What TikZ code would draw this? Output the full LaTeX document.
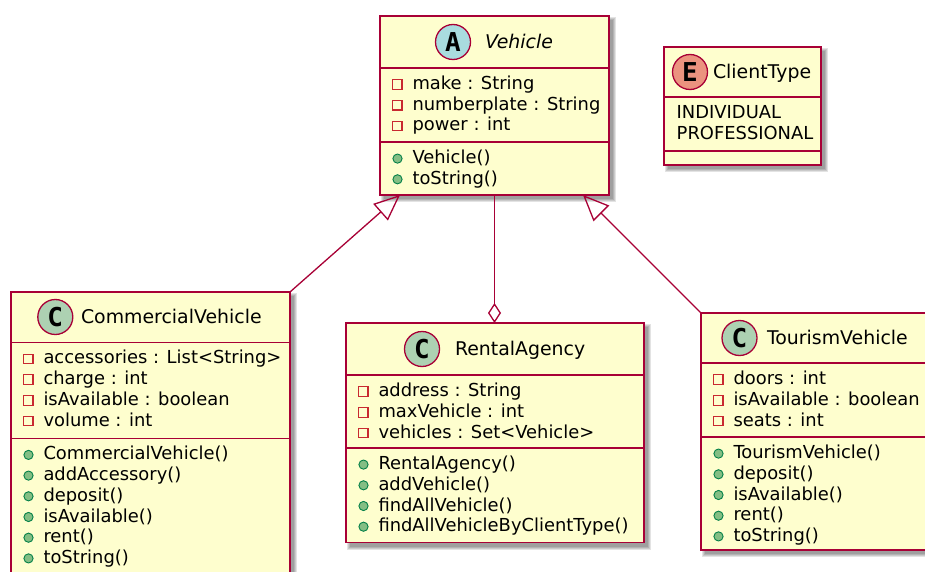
\documentclass[tikz,border=0pt]{standalone}
\usepackage{fontspec}
\setmainfont{DejaVu Sans}
\newfontfamily\circfont{DejaVu Sans Mono}
\usetikzlibrary{arrows.meta,backgrounds}
\definecolor{umlfill}{HTML}{FEFECE}
\definecolor{umlborder}{HTML}{A80036}
\definecolor{cgreen}{HTML}{ADD1B2}
\definecolor{cblue}{HTML}{A9DCDF}
\definecolor{cred}{HTML}{EB937F}
\definecolor{privred}{HTML}{C82930}
\definecolor{pubfill}{HTML}{84BE84}
\definecolor{pubdraw}{HTML}{038048}
\tikzset{
  cls/.style={draw=umlborder, fill=umlfill, line width=1.5pt, rectangle, inner sep=0pt, outer sep=0pt, anchor=north west},
  sepline/.style={draw=umlborder, line width=1.5pt},
  member/.style={anchor=base west, inner sep=0pt, outer sep=0pt, font=\fontsize{17.9}{20.7}\selectfont},
  clsname/.style={anchor=base west, inner sep=0pt, outer sep=0pt, font=\fontsize{18.9}{22}\selectfont},
  circ/.style={circle, draw=umlborder, line width=1.3pt, minimum size=35pt, inner sep=0pt, font=\circfont\bfseries\fontsize{26}{26}\selectfont},
  privicon/.style={draw=privred, line width=1.1pt},
  pubicon/.style={draw=pubdraw, fill=pubfill, line width=0.9pt},
  inh/.style={draw=umlborder, line width=1.3pt, -{Triangle[open, length=26pt, width=22pt, line width=1.3pt]}},
  agg/.style={draw=umlborder, line width=1.3pt, -{Diamond[open, length=20pt, width=13pt, line width=1.3pt]}},
}
\newcommand\privm[4]{%
  \draw[privicon] (#2+12.5,#3-9.75) rectangle ++(9.5,9.5);
  \node[member] (#1) at (#2+32.5,#3) {#4};}
\newcommand\publm[4]{%
  \draw[pubicon] (#2+17.5,#3-5) circle (4.6pt);
  \node[member] (#1) at (#2+32.5,#3) {#4};}
\newcommand\softshadow[1]{%
  \begin{pgfonlayer}{background}
  \foreach \r in {0,1,2,3}{
    \fill[black,opacity=0.11] ([shift={(4pt-\r pt,-4pt+\r pt)}]#1.north west) rectangle ([shift={(4pt+\r pt,-4pt-\r pt)}]#1.south east);
  }
  \end{pgfonlayer}}
\begin{document}
\begin{tikzpicture}[x=1pt,y=-1pt]
\useasboundingbox (0,0) rectangle (925,572);
\begin{pgfonlayer}{background}
\fill[white] (0,0) rectangle (925,572);
\end{pgfonlayer}

% ---------- Vehicle ----------
\node[cls, minimum width=229pt, minimum height=179pt] (vehicle) at (380,16) {};
\softshadow{vehicle}
\draw[sepline] (vehicle.west |- 0,68) -- (vehicle.east |- 0,68);
\draw[sepline] (vehicle.west |- 0,142) -- (vehicle.east |- 0,142);
\node[circ, fill=cblue] (v-c) at (453,42) {A};
\node[clsname] (v-name) at (485,48.5) {\itshape Vehicle};
\privm{v-a1}{380}{89.6}{make : String}
\privm{v-a2}{380}{110.3}{numberplate : String}
\privm{v-a3}{380}{131.0}{power : int}
\publm{v-m1}{380}{163.6}{Vehicle()}
\publm{v-m2}{380}{184.3}{toString()}

% ---------- ClientType ----------
\node[cls, minimum width=157pt, minimum height=118pt] (ct) at (664,47) {};
\softshadow{ct}
\draw[sepline] (ct.west |- 0,97) -- (ct.east |- 0,97);
\draw[sepline] (ct.west |- 0,151) -- (ct.east |- 0,151);
\node[circ, fill=cred] (ct-c) at (690,72) {E};
\node[clsname] (ct-name) at (713,78.5) {ClientType};
\node[member] (ct-a1) at (676.7,118.6) {INDIVIDUAL};
\node[member] (ct-a2) at (676.7,139.3) {PROFESSIONAL};

% ---------- CommercialVehicle ----------
\node[cls, minimum width=279pt, minimum height=283pt] (cv) at (11,292) {};
\softshadow{cv}
\draw[sepline] (cv.west |- 0,342.3) -- (cv.east |- 0,342.3);
\draw[sepline] (cv.west |- 0,438.3) -- (cv.east |- 0,438.3);
\node[circ, fill=cgreen] (cv-c) at (55.3,317) {C};
\node[clsname] (cv-name) at (81,323.5) {CommercialVehicle};
\privm{cv-a1}{11}{363.9}{accessories : List<String>}
\privm{cv-a2}{11}{384.6}{charge : int}
\privm{cv-a3}{11}{405.3}{isAvailable : boolean}
\privm{cv-a4}{11}{426.0}{volume : int}
\publm{cv-m1}{11}{459.9}{CommercialVehicle()}
\publm{cv-m2}{11}{480.6}{addAccessory()}
\publm{cv-m3}{11}{501.3}{deposit()}
\publm{cv-m4}{11}{522.0}{isAvailable()}
\publm{cv-m5}{11}{542.7}{rent()}
\publm{cv-m6}{11}{563.4}{toString()}

% ---------- RentalAgency ----------
\node[cls, minimum width=298pt, minimum height=219.5pt] (ra) at (346,323) {};
\softshadow{ra}
\draw[sepline] (ra.west |- 0,375) -- (ra.east |- 0,375);
\draw[sepline] (ra.west |- 0,448) -- (ra.east |- 0,448);
\node[circ, fill=cgreen] (ra-c) at (422,349) {C};
\node[clsname] (ra-name) at (455,355.5) {RentalAgency};
\privm{ra-a1}{346}{396.6}{address : String}
\privm{ra-a2}{346}{417.3}{maxVehicle : int}
\privm{ra-a3}{346}{438.0}{vehicles : Set<Vehicle>}
\publm{ra-m1}{346}{469.6}{RentalAgency()}
\publm{ra-m2}{346}{490.3}{addVehicle()}
\publm{ra-m3}{346}{511.0}{findAllVehicle()}
\publm{ra-m4}{346}{531.7}{findAllVehicleByClientType()}

% ---------- TourismVehicle ----------
\node[cls, minimum width=230pt, minimum height=237pt] (tv) at (701,313) {};
\softshadow{tv}
\draw[sepline] (tv.west |- 0,363) -- (tv.east |- 0,363);
\draw[sepline] (tv.west |- 0,437) -- (tv.east |- 0,437);
\node[circ, fill=cgreen] (tv-c) at (739.5,338) {C};
\node[clsname] (tv-name) at (767,344.5) {TourismVehicle};
\privm{tv-a1}{701}{384.6}{doors : int}
\privm{tv-a2}{701}{405.3}{isAvailable : boolean}
\privm{tv-a3}{701}{426.0}{seats : int}
\publm{tv-m1}{701}{458.6}{TourismVehicle()}
\publm{tv-m2}{701}{479.3}{deposit()}
\publm{tv-m3}{701}{500.0}{isAvailable()}
\publm{tv-m4}{701}{520.7}{rent()}
\publm{tv-m5}{701}{541.4}{toString()}

% ---------- Relations ----------
\draw[inh] (cv.north east) -- ([xshift=20pt]vehicle.south west);
\draw[inh] (tv.north west) -- ([xshift=-26pt]vehicle.south east);
\draw[agg] (vehicle.south) -- (vehicle.south |- ra.north);
\end{tikzpicture}
\end{document}
